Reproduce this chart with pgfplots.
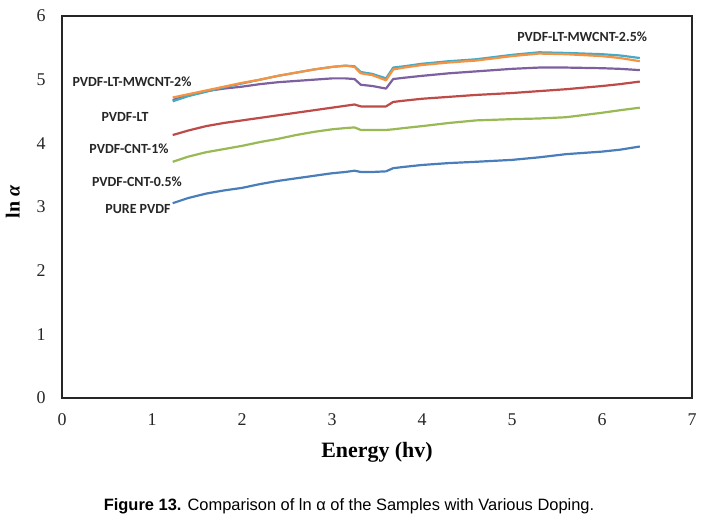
\documentclass[border=0pt]{standalone}
\usepackage{pgfplots}
\pgfplotsset{compat=1.18}
\usepackage{fontspec}
\setmainfont{Liberation Serif}
\newfontfamily\lblfont{Carlito}
\newfontfamily\capfont{Liberation Sans}
\definecolor{sblue}{HTML}{4A7EBB}
\definecolor{sred}{HTML}{BE4B48}
\definecolor{sgreen}{HTML}{98B954}
\definecolor{spurple}{HTML}{7D60A0}
\definecolor{saqua}{HTML}{46AAC5}
\definecolor{sorange}{HTML}{F69240}
\begin{document}
\begin{tikzpicture}
\path[use as bounding box] (-62bp,-123bp) rectangle (648bp,398bp);
\begin{axis}[
  at={(0,0)}, anchor=south west,
  scale only axis, width=630bp, height=382bp,
  xmin=0, xmax=7, ymin=0, ymax=6,
  xtick={0,...,7}, ytick={0,...,6},
  major tick length=0pt,
  axis line style={line width=2.5bp, black!85},
  /pgf/number format/assume math mode=true,
  ticklabel style={font=\fontsize{18}{18}\selectfont, text=black!85},
  yticklabel style={xshift=-13bp},
  xticklabel style={yshift=-12bp},
  xlabel={\textbf{Energy (hv)}},
  xlabel style={font=\fontsize{22}{22}\selectfont, at={(axis description cs:0.5,-0.142)}, anchor=center},
  ylabel={\textbf{ln \textit{α}}},
  ylabel style={font=\fontsize{20}{20}\selectfont, at={(axis description cs:-0.078,0.513)}, anchor=center, rotate=0},
  clip=false,
  every axis plot/.append style={line width=2.2bp, line join=round},
]
\addplot[sblue] coordinates {
(1.23,3.06)(1.4,3.14)(1.6,3.21)(1.8,3.26)(2.0,3.30)(2.2,3.36)(2.4,3.41)(2.6,3.45)(2.8,3.49)(3.0,3.53)(3.15,3.55)(3.25,3.57)(3.32,3.55)(3.45,3.55)(3.6,3.56)(3.68,3.61)(3.8,3.63)(4.0,3.66)(4.3,3.69)(4.6,3.71)(5.0,3.74)(5.3,3.78)(5.6,3.83)(6.0,3.87)(6.2,3.90)(6.42,3.95)};
\addplot[sred] coordinates {
(1.23,4.13)(1.4,4.20)(1.6,4.27)(1.8,4.32)(2.0,4.36)(2.2,4.40)(2.4,4.44)(2.6,4.48)(2.8,4.52)(3.0,4.56)(3.15,4.59)(3.25,4.61)(3.32,4.58)(3.45,4.58)(3.6,4.58)(3.68,4.65)(3.8,4.67)(4.0,4.70)(4.3,4.73)(4.6,4.76)(5.0,4.79)(5.3,4.82)(5.6,4.85)(6.0,4.90)(6.2,4.93)(6.42,4.97)};
\addplot[sgreen] coordinates {
(1.23,3.71)(1.4,3.79)(1.6,3.86)(1.8,3.91)(2.0,3.96)(2.2,4.02)(2.4,4.07)(2.6,4.13)(2.8,4.18)(3.0,4.22)(3.15,4.24)(3.25,4.25)(3.32,4.21)(3.45,4.21)(3.6,4.21)(3.68,4.22)(3.8,4.24)(4.0,4.27)(4.3,4.32)(4.6,4.36)(5.0,4.38)(5.3,4.39)(5.6,4.41)(6.0,4.48)(6.2,4.52)(6.42,4.56)};
\addplot[spurple] coordinates {
(1.23,4.68)(1.4,4.75)(1.6,4.82)(1.8,4.86)(2.0,4.89)(2.2,4.93)(2.4,4.96)(2.6,4.98)(2.8,5.00)(3.0,5.02)(3.15,5.02)(3.25,5.01)(3.32,4.92)(3.45,4.90)(3.6,4.86)(3.68,5.01)(3.8,5.03)(4.0,5.06)(4.3,5.10)(4.6,5.13)(5.0,5.17)(5.3,5.19)(5.6,5.19)(6.0,5.18)(6.2,5.17)(6.42,5.15)};
\addplot[saqua] coordinates {
(1.23,4.66)(1.4,4.74)(1.6,4.81)(1.8,4.88)(2.0,4.94)(2.2,5.00)(2.4,5.06)(2.6,5.11)(2.8,5.16)(3.0,5.20)(3.15,5.22)(3.25,5.21)(3.32,5.12)(3.45,5.09)(3.6,5.02)(3.68,5.19)(3.8,5.21)(4.0,5.25)(4.3,5.29)(4.6,5.32)(5.0,5.39)(5.3,5.43)(5.6,5.42)(6.0,5.40)(6.2,5.38)(6.42,5.34)};
\addplot[sorange] coordinates {
(1.23,4.72)(1.4,4.77)(1.6,4.83)(1.8,4.89)(2.0,4.95)(2.2,5.00)(2.4,5.06)(2.6,5.11)(2.8,5.16)(3.0,5.20)(3.15,5.22)(3.25,5.20)(3.32,5.10)(3.45,5.07)(3.6,4.99)(3.68,5.16)(3.8,5.19)(4.0,5.23)(4.3,5.27)(4.6,5.30)(5.0,5.37)(5.3,5.41)(5.6,5.40)(6.0,5.37)(6.2,5.34)(6.42,5.29)};
\begin{scope}[every node/.style={font=\lblfont\bfseries\fontsize{14}{14}\selectfont, text=black!85, inner sep=0pt, anchor=center}]
\node at (axis cs:5.78,5.67) {PVDF-LT-MWCNT-2.5\%};
\node at (axis cs:0.778,4.96) {PVDF-LT-MWCNT-2\%};
\node at (axis cs:0.70,4.41) {PVDF-LT};
\node at (axis cs:0.744,3.91) {PVDF-CNT-1\%};
\node at (axis cs:0.833,3.39) {PVDF-CNT-0.5\%};
\node at (axis cs:0.844,2.97) {PURE PVDF};
\end{scope}
\node[font=\capfont\fontsize{16.5}{16.5}\selectfont, anchor=center, inner sep=0pt] at (axis description cs:0.4556,-0.283) {\textbf{Figure 13.} Comparison of ln α of the Samples with Various Doping.};
\end{axis}
\end{tikzpicture}
\end{document}
